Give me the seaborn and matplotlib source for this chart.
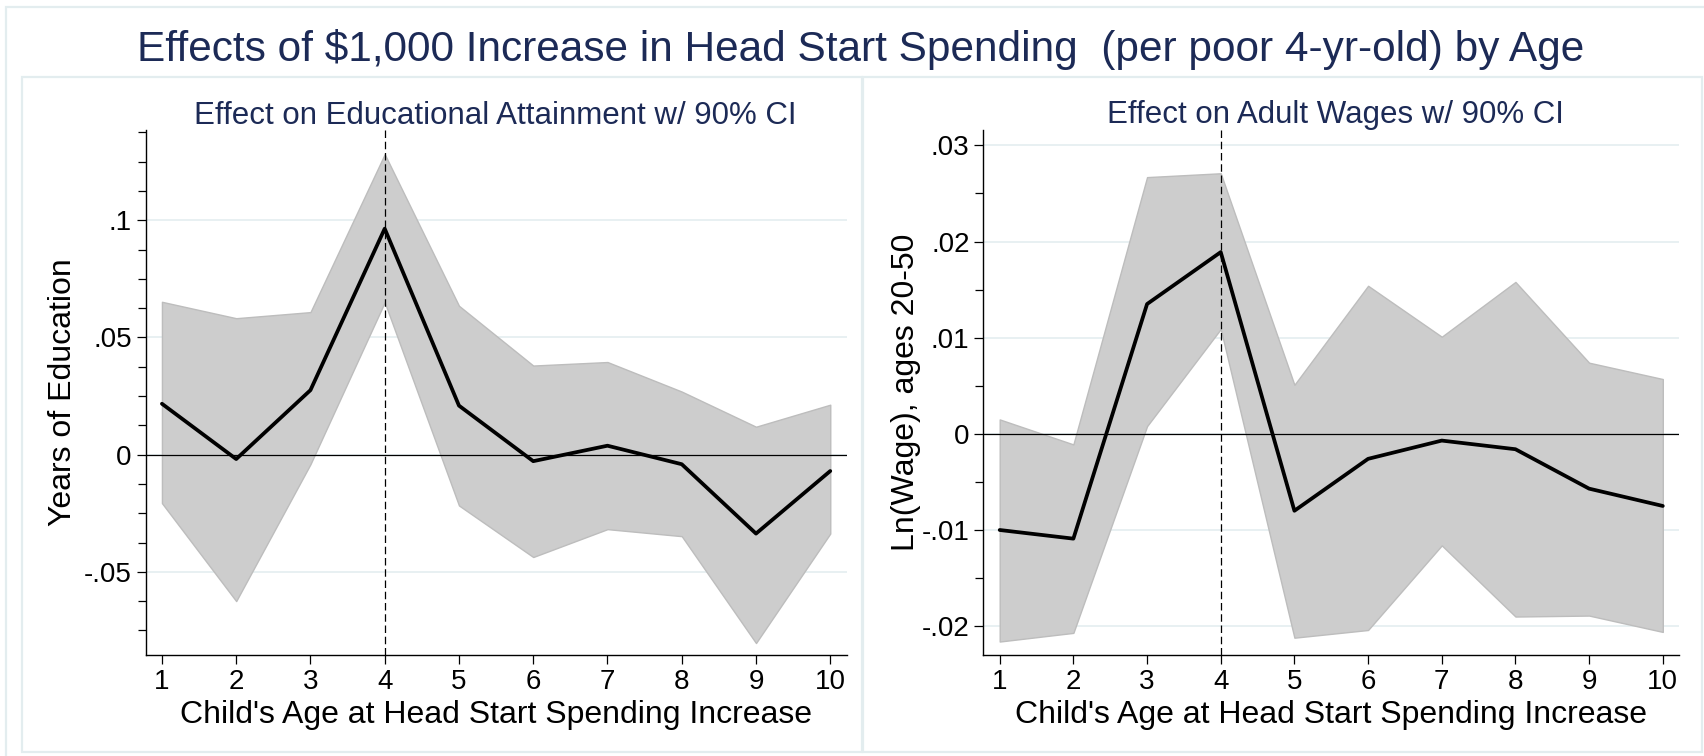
import numpy as np
import pandas as pd
import matplotlib
matplotlib.use("Agg")
import matplotlib.pyplot as plt
import seaborn as sns
from matplotlib.patches import Rectangle
from matplotlib.ticker import MultipleLocator, FuncFormatter

# ---------------- data ----------------
ages = [1, 2, 3, 4, 5, 6, 7, 8, 9, 10]

edu_est = [0.0217, -0.0019, 0.0275, 0.0964, 0.0209, -0.0028, 0.0038, -0.0041, -0.0337, -0.0070]
edu_hi = [0.0652, 0.0582, 0.0608, 0.1282, 0.0635, 0.0380, 0.0395, 0.0269, 0.0119, 0.0213]
edu_lo = [-0.0207, -0.0625, -0.0041, 0.0650, -0.0217, -0.0437, -0.0318, -0.0348, -0.0804, -0.0337]

wage_est = [-0.0100, -0.0109, 0.0135, 0.0189, -0.0080, -0.0026, -0.0007, -0.0016, -0.0057, -0.0075]
wage_hi = [0.0015, -0.0011, 0.0267, 0.0271, 0.0051, 0.0154, 0.0101, 0.0158, 0.0074, 0.0057]
wage_lo = [-0.0216, -0.0207, 0.0008, 0.0109, -0.0212, -0.0204, -0.0116, -0.0190, -0.0189, -0.0206]

edu_ticks = [-0.05, 0, 0.05, 0.1]
wage_ticks = [-0.02, -0.01, 0, 0.01, 0.02, 0.03]

main_title = "Effects of $1,000 Increase in Head Start Spending  (per poor 4-yr-old) by Age"
sub_titles = ["Effect on Educational Attainment w/ 90% CI", "Effect on Adult Wages w/ 90% CI"]
y_labels = ["Years of Education", "Ln(Wage), ages 20-50"]
x_label = "Child's Age at Head Start Spending Increase"

# ---------------- style ----------------
sns.set_style("white")
plt.rcParams['font.family'] = ['Liberation Sans', 'DejaVu Sans']

navy = '#1c2a56'
frame_col = '#e3edef'
grid_col = '#e6eff1'

W, H = 1704, 756
fig = plt.figure(figsize=(W / 100, H / 100), dpi=100)


def stata_fmt(v, pos):
    if abs(v) < 1e-9:
        return '0'
    s = ('%g' % round(v, 4))
    return s.replace('0.', '.')


# panel frames (figure pixel coords)
def frame(x0, y0, x1, y1):
    fig.patches.append(Rectangle((x0 / W, 1 - y1 / H), (x1 - x0) / W, (y1 - y0) / H,
                                 transform=fig.transFigure, fill=False,
                                 edgecolor=frame_col, linewidth=1.6, zorder=0))


frame(6, 7, 1710, 762)
frame(22, 77, 862, 752)
frame(863, 77, 1702, 752)

top_px, bot_px = 130, 655
panels = [
    dict(x0=145.6, x1=846.6, est=edu_est, hi=edu_hi, lo=edu_lo, ticks=edu_ticks,
         minor=0.0125, ylim=(-0.0855, 0.1385), ylab_x=71, title_x=495),
    dict(x0=983.5, x1=1679, est=wage_est, hi=wage_hi, lo=wage_lo, ticks=wage_ticks,
         minor=0.005, ylim=(-0.0230, 0.0316), ylab_x=914, title_x=1335),
]

for i, p in enumerate(panels):
    pos = [p['x0'] / W, 1 - bot_px / H, (p['x1'] - p['x0']) / W, (bot_px - top_px) / H]
    ax = fig.add_axes(pos)
    df = pd.DataFrame({'age': ages, 'est': p['est'], 'hi': p['hi'], 'lo': p['lo']})

    ax.fill_between(df['age'], df['lo'], df['hi'], facecolor='#cdcdcd',
                    edgecolor='#bdbdbd', linewidth=1.0, zorder=2)
    sns.lineplot(data=df, x='age', y='est', color='black', linewidth=2.7, ax=ax, zorder=4)
    ax.axhline(0, color='black', linewidth=0.9, zorder=3)
    ax.axvline(4, color='black', linewidth=0.9, linestyle=(0, (6, 3)), zorder=5)

    for t in p['ticks']:
        ax.axhline(t, color=grid_col, linewidth=1.3, zorder=1)

    ax.set_xlim(0.78, 10.22)
    ax.set_ylim(*p['ylim'])
    ax.set_xticks(ages)
    ax.set_yticks(p['ticks'])
    ax.yaxis.set_minor_locator(MultipleLocator(p['minor']))
    ax.yaxis.set_major_formatter(FuncFormatter(stata_fmt))

    for s in ['top', 'right']:
        ax.spines[s].set_visible(False)
    for s in ['left', 'bottom']:
        ax.spines[s].set_color('black')
        ax.spines[s].set_linewidth(1.0)

    ax.tick_params(axis='both', which='major', direction='out', length=6.5, width=0.9,
                   color='black', labelsize=20, labelcolor='black', left=True, bottom=True,
                   pad=3.5)
    ax.tick_params(axis='y', which='minor', direction='out', length=6, width=0.9,
                   color='black', left=True)

    w_px = p['x1'] - p['x0']
    h_px = bot_px - top_px
    ax.set_xlabel(x_label, fontsize=23, color='black')
    ax.xaxis.set_label_coords(0.5, (bot_px - 723) / h_px)
    ax.xaxis.label.set_verticalalignment('baseline')

    ax.set_ylabel(y_labels[i], fontsize=23, color='black')
    ax.yaxis.set_label_coords((p['ylab_x'] - p['x0']) / w_px, 0.5)
    ax.yaxis.label.set_verticalalignment('baseline')

    fig.text(p['title_x'] / W, 1 - 123.5 / H, sub_titles[i], ha='center', va='baseline',
             fontsize=22.5, color=navy)

fig.text(861 / W, 1 - 61.5 / H, main_title, ha='center', va='baseline', fontsize=30.5, color=navy)

fig.savefig('out.png', dpi=100)
